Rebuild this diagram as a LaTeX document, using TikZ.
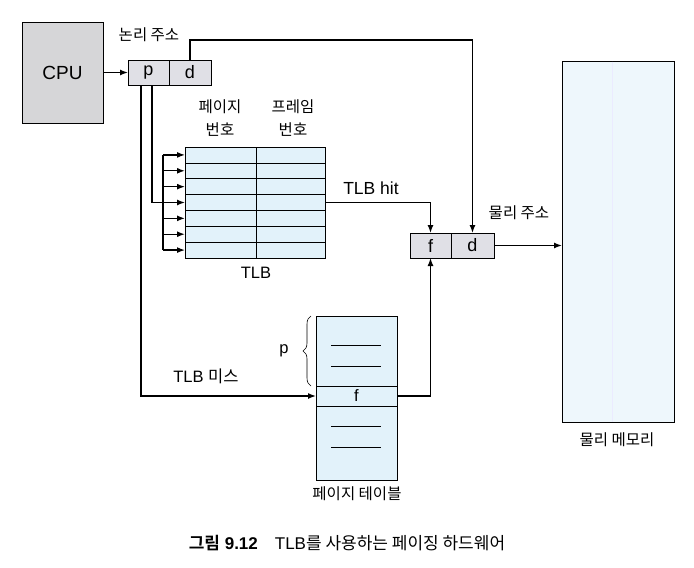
\documentclass[tikz,border=0pt]{standalone}
\usepackage{fontspec}
\setmainfont{Liberation Sans}
\newfontfamily\kr{Noto Sans CJK KR}[BoldFont={Noto Sans CJK KR Bold}]
\usetikzlibrary{decorations.pathreplacing,arrows.meta}
\definecolor{paging-gray}{RGB}{214,214,216}
\definecolor{paging-field}{RGB}{224,224,230}
\definecolor{paging-blue}{RGB}{226,242,250}
\definecolor{paging-mem}{RGB}{238,247,252}

\begin{document}
\begin{tikzpicture}[x=1pt, y=-1pt, >={Latex[length=8pt,width=6pt]},
    box/.style={draw, line width=0.8pt, inner sep=0pt, outer sep=0pt},
    field/.style={box, fill=paging-field, minimum width=41pt, minimum height=25pt, font=\fontsize{18}{18}\selectfont},
    wire/.style={line width=1.4pt},
    rule/.style={line width=0.7pt},
    lbl/.style={font=\kr\fontsize{15.5}{23}\selectfont, align=center},
    txt/.style={font=\fontsize{16.5}{16.5}\selectfont}]
    \useasboundingbox (0,0) rectangle (694,568);

    % CPU and logical address
    \node[box, fill=paging-gray, minimum width=81pt, minimum height=101pt, font=\fontsize{19}{19}\selectfont] (cpu) at (62.5,72.5) {CPU};
    \node[field, anchor=west] (lp) at (128,72.5) {p};
    \node[field, anchor=west, minimum width=42pt] (ld) at (lp.east) {d};
    \node[lbl] (logical) at (149,35) {논리 주소};
    \draw[wire, ->] (cpu) -- (lp);

    % TLB
    \node[box, fill=paging-blue, minimum width=140pt, minimum height=111pt, anchor=north west] (tlb) at (185,147) {};
    \foreach \i in {1,...,6}
        \draw[rule] (185,{147+\i*111/7}) -- (325,{147+\i*111/7});
    \draw[rule] (256,147) -- (256,258);
    \node[lbl] (pageno) at (220,118) {페이지\\번호};
    \node[lbl] (frameno) at (293,118) {프레임\\번호};
    \node[txt] (tlblabel) at (256,273) {TLB};
    \foreach \k in {1,...,7} {
        \coordinate (bus\k) at (163,{147+(\k-0.5)*111/7});
        \coordinate (row\k) at (185,{147+(\k-0.5)*111/7});
        \draw[wire, ->] (bus\k) -- (row\k);
    }
    \draw[wire] (bus1) -- (bus7);
    \draw[wire] ([xshift=3.5pt]lp.south) |- (bus4);

    % Page table
    \node[box, fill=paging-blue, minimum width=81pt, minimum height=164pt, anchor=north west] (pt) at (316,316) {};
    \node[box, fill=paging-blue, minimum width=81pt, minimum height=20pt, anchor=west, font=\fontsize{16.5}{16.5}\selectfont] (ptf) at (316,396) {f};
    \foreach \y in {345.7,366.7,426.7,447.7}
        \draw[rule] (331,\y) -- (381,\y);
    \draw[decorate, decoration={brace, amplitude=8pt}, line width=0.6pt] (311,386) -- (311,316);
    \node[txt] (pidx) at (284,351) {p};
    \node[lbl] (ptlabel) at (357,494) {페이지 테이블};
    \node[txt] (misslabel) at (206,376) {TLB {\kr 미스}};
    \draw[wire, ->] ([xshift=-7.5pt]lp.south) |- (ptf.west);

    % Physical address
    \node[field, anchor=west] (pf) at (410,245.5) {f};
    \node[field, anchor=west, minimum width=43pt] (pd) at (pf.east) {d};
    \node[lbl] (physical) at (519,213) {물리 주소};
    \node[font=\fontsize{17.5}{17.5}\selectfont] (hitlabel) at (371,188) {TLB hit};
    \draw[wire, ->] (tlb.east) -| (pf.north);
    \draw[wire, ->] (ptf.east) -| (pf.south);
    \draw[wire, ->] (ld.north) -- ++(0,-20) -| (pd.north);

    % Physical memory
    \node[box, fill=paging-mem, minimum width=112pt, minimum height=361pt, anchor=north west] (mem) at (562,61) {};
    \draw[blue!8, line width=0.6pt] (612,61.5) -- (612,421.5);
    \node[lbl] (memlabel) at (617,440) {물리 메모리};
    \draw[wire, ->] (pd.east) -- (pd.east -| mem.west);

    % Caption
    \node[font=\fontsize{17}{17}\selectfont] (caption) at (347,543) {{\kr\bfseries 그림} \textbf{9.12}\quad TLB{\kr 를 사용하는 페이징 하드웨어}};
\end{tikzpicture}
\end{document}
